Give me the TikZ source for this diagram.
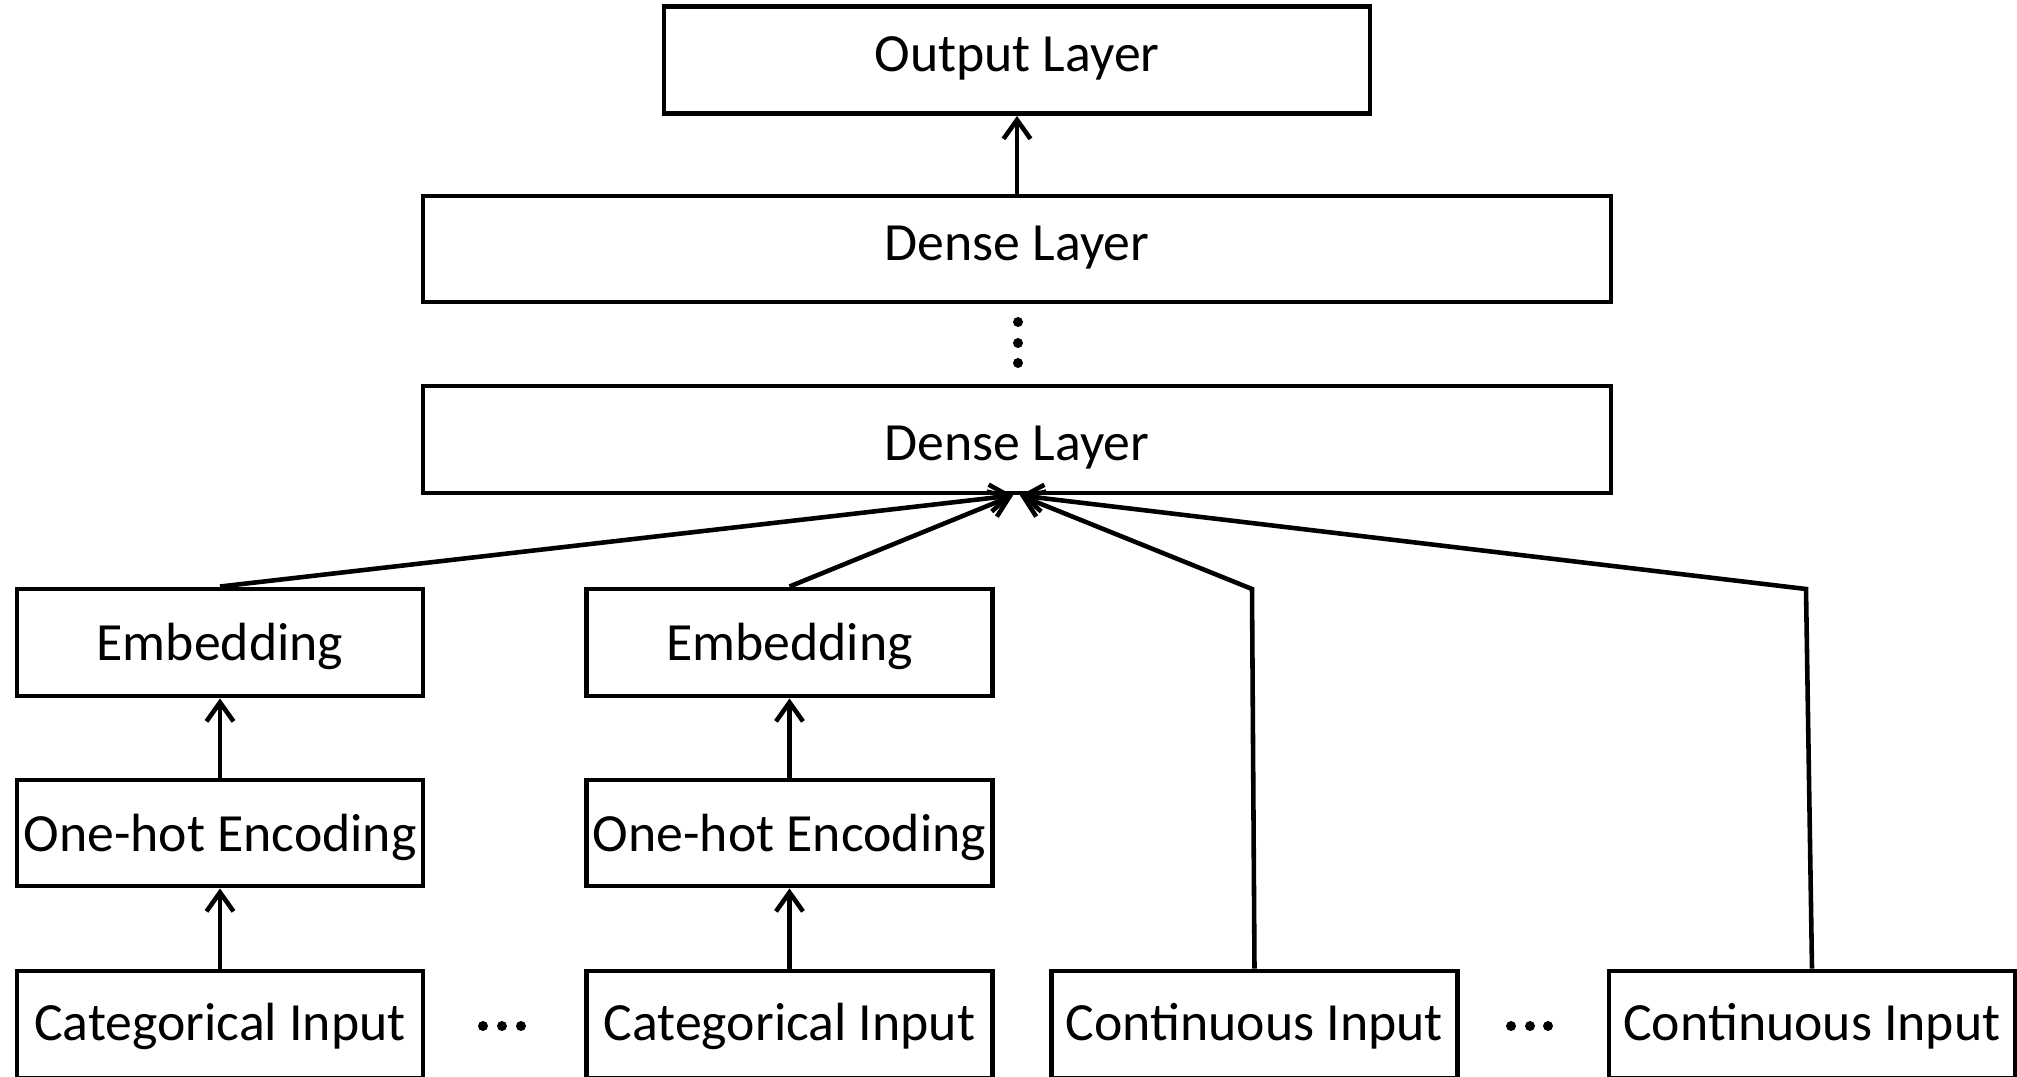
\documentclass[tikz,border=0pt]{standalone}
\usepackage{fontspec}
\setmainfont{Carlito}
\usetikzlibrary{arrows.meta}

\tikzset{
	layer/.style={draw, line width=1.4pt, minimum width=4.06cm, minimum height=1.07cm, inner sep=0pt,
		text height=#1, text depth=3pt, font=\fontsize{15.3}{18}\selectfont},
	layer/.default=12.1pt,
	flow/.style={line width=1.3pt, line join=miter, -{Straight Barb[length=0.19cm, width=0.27cm]}},
}

\begin{document}
\begin{tikzpicture}
	\useasboundingbox (0,0) rectangle (20.17,10.76);
	\clip (0,0) rectangle (20.17,10.76);
	% stacked layers
	\node[layer=9.3pt, minimum width=7.06cm] (out) at (10.17,10.16) {Output Layer};
	\node[layer=9.8pt, minimum width=11.88cm, minimum height=1.06cm] (dense2) at (10.17,8.27) {Dense Layer};
	\node[layer=14.7pt, minimum width=11.88cm] (dense1) at (10.17,6.365) {Dense Layer};
	\foreach \y in {7.54,7.33,7.13}
		\fill (10.18,\y) circle (0.05);
	% categorical branches
	\node[layer=13.5pt] (emb1) at (2.20,4.335) {Embedding};
	\node[layer=13.5pt] (emb2) at (7.895,4.335) {Embedding};
	\node[layer=13.8pt, minimum height=1.06cm] (hot1) at (2.20,2.43) {One-hot Encoding};
	\node[layer=13.8pt, minimum height=1.06cm] (hot2) at (7.895,2.43) {One-hot Encoding};
	\node[layer] (cat1) at (2.20,0.515) {Categorical Input};
	\node[layer] (cat2) at (7.895,0.515) {Categorical Input};
	% continuous inputs
	\node[layer] (con1) at (12.545,0.515) {Continuous Input};
	\node[layer] (con2) at (18.12,0.515) {Continuous Input};
	\foreach \x in {4.83,5.02,5.21,15.11,15.30,15.48}
		\fill (\x,0.50) circle (0.05);
	\coordinate (k1) at (12.52,4.87);
	\coordinate (k2) at (18.06,4.87);

	\draw[flow] (cat1) -- (hot1);
	\draw[flow] (hot1) -- (emb1);
	\draw[flow] (cat2) -- (hot2);
	\draw[flow] (hot2) -- (emb2);
	\draw[flow] (emb1.north) -- ([xshift=-0.04cm]dense1.south);
	\draw[flow] (emb2.north) -- ([xshift=-0.04cm]dense1.south);
	\draw[flow] (con1.north) -- (k1) -- ([xshift=0.03cm]dense1.south);
	\draw[flow] (con2.north) -- (k2) -- ([xshift=0.03cm]dense1.south);
	\draw[flow] (dense2) -- (out);
\end{tikzpicture}
\end{document}
